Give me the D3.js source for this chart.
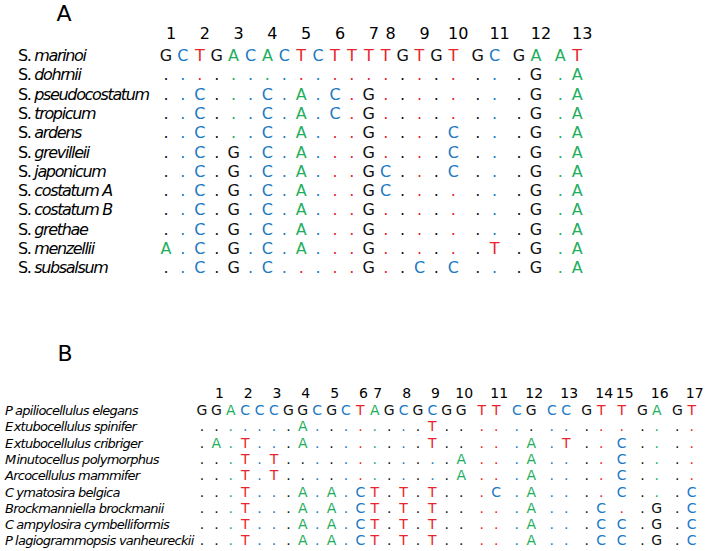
<!DOCTYPE html>
<html><head><meta charset="utf-8">
<script src="https://cdn.jsdelivr.net/npm/d3@7"></script>
<style>body{margin:0;background:#fff}svg{display:block}</style>
</head><body><svg id="c" width="707" height="551"></svg>
<script>
// ---------- Panel A data ----------
const speciesA = ["marinoi","dohrnii","pseudocostatum","tropicum","ardens","grevilleii",
  "japonicum","costatum A","costatum B","grethae","menzellii","subsalsum"];
const refA = "GCTGACACTCTTTTGTGT GC GA AT";
const seqA = [
  ".................. .. .G .A",
  "..C...C.A.C.G..... .. .G .A",
  "..C...C.A.C.G..... .. .G .A",
  "..C...C.A...G....C .. .G .A",
  "..C.G.C.A...G....C .. .G .A",
  "..C.G.C.A...GC...C .. .G .A",
  "..C.G.C.A...GC.... .. .G .A",
  "..C.G.C.A...G..... .. .G .A",
  "..C.G.C.A...G..... .. .G .A",
  "A.C.G.C.A...G..... .T .G .A",
  "..C.G.C.....G..C.C .. .G .A"
];
const numLabelsA = ["1","2","3","4","5","6","7","8","9","10","11","12","13"];
const numColsA = [0,2,4,6,8,10,12,13,15,17,19,21,23];

// ---------- Panel B data ----------
const speciesB = ["Papiliocellulus elegans","Extubocellulus spinifer","Extubocellulus cribriger",
  "Minutocellus polymorphus","Arcocellulus mammifer","Cymatosira belgica",
  "Brockmanniella brockmanii","Campylosira cymbelliformis","Plagiogrammopsis vanheureckii"];
const refB = "GGACCCGGCGCTAGCGCGG TT CG CC GT T GA GT";
const seqB = [
  ".......A........T.. .. .. .. .. . .. ..",
  ".A.T...A........T.. .. .A .T .. C .. ..",
  "...T.T............A .. .A .. .. C .. ..",
  "...T.T............A .. .A .. .. C .. ..",
  "...T...A.A.CT.T.T.. .C .A .. .. C .. .C",
  "...T...A.A.CT.T.T.. .. .A .. .C . .G .C",
  "...T...A.A.CT.T.T.. .. .A .. .C C .G .C",
  "...T...A.A.CT.T.T.. .. .A .. .C C .G .C"
];
const numLabelsB = ["1","2","3","4","5","6","7","8","9","10","11","12","13","14","15","16","17"];
const numColsB = [1,3,5,7,9,11,12,14,16,18,20,22,24,26,27,29,31];

const baseColor = {G:"#111111", C:"#2079c2", T:"#e8242c", A:"#1fae5e"};

const svg = d3.select("#c");
svg.append("rect").attr("width",707).attr("height",551).attr("fill","#fff");
const FONT = "DejaVu Sans";
// loose spacing after some initial capitals, as rendered in the reference
const initialGap = {P:3, C:3, E:1.2, M:1};

function parse(str, gapFrac){
  const out=[]; let col=0, gaps=0;
  for (const ch of str){
    if (ch===" "){ gaps++; continue; }
    out.push({ch, col, slot: col + gaps*gapFrac});
    col++;
  }
  return out;
}

function panel(cfg){
  const g = svg.append("g");
  const refCells = parse(cfg.ref, cfg.gapFrac);
  const slotOf = refCells.map(d=>d.slot);
  const x = d3.scaleLinear().domain([0,1]).range([cfg.x0, cfg.x0+cfg.step]);
  const rows = [cfg.ref, ...cfg.seqs];
  const y = d3.scaleLinear().domain([0,1]).range([cfg.y0, cfg.y0+cfg.rowStep]);

  g.append("text").attr("x",cfg.titleX).attr("y",cfg.titleY).attr("text-anchor","middle")
    .attr("font-family",FONT).attr("font-size",cfg.titleSize).attr("fill","#000").text(cfg.title);

  g.selectAll("text.num").data(cfg.numLabels).join("text").attr("class","num")
    .attr("x",(d,i)=>x(slotOf[cfg.numCols[i]])+cfg.numOffset)
    .attr("y",cfg.numY).attr("text-anchor","middle")
    .attr("font-family",FONT).attr("font-size",cfg.fontSize).attr("fill","#000").text(d=>d);

  const names = g.selectAll("text.name").data(cfg.species).join("text").attr("class","name")
    .attr("x",cfg.nameX).attr("y",(d,i)=>y(i))
    .attr("font-family",FONT).attr("font-size",cfg.nameSize)
    .attr("letter-spacing",cfg.nameSpacing).attr("fill","#000");
  if (cfg.genusPrefix){
    names.append("tspan").text(cfg.genusPrefix);
    names.append("tspan").attr("font-style","italic").text(d=>d);
  } else {
    names.attr("font-style","italic");
    names.append("tspan").text(d=>d[0]);
    names.append("tspan").attr("dx",d=>initialGap[d[0]]||0).text(d=>d.slice(1));
  }

  rows.forEach((r,ri)=>{
    const cells = parse(r, cfg.gapFrac);
    g.selectAll(null).data(cells).join("text")
      .attr("x",d=>x(slotOf[d.col])).attr("y",y(ri)).attr("text-anchor","middle")
      .attr("font-family",FONT).attr("font-size",cfg.fontSize)
      .attr("fill",d=> d.ch==="." ? baseColor[refCells[d.col].ch] : baseColor[d.ch])
      .text(d=>d.ch);
  });
}

panel({title:"A", titleX:64, titleY:21, titleSize:22,
  ref:refA, seqs:seqA, species:speciesA, genusPrefix:"S. ",
  numLabels:numLabelsA, numCols:numColsA,
  x0:166, step:16.9, gapFrac:0.444, y0:61, rowStep:19.3, numY:39, numOffset:5,
  fontSize:16, nameX:18, nameSize:16, nameSpacing:-1.35});

panel({title:"B", titleX:65, titleY:361, titleSize:22,
  ref:refB, seqs:seqB, species:speciesB, genusPrefix:null,
  numLabels:numLabelsB, numCols:numColsB,
  x0:202, step:14.4, gapFrac:0.43, y0:415, rowStep:16.3, numY:398, numOffset:3,
  fontSize:14, nameX:5, nameSize:13, nameSpacing:-0.75});
</script></body></html>
